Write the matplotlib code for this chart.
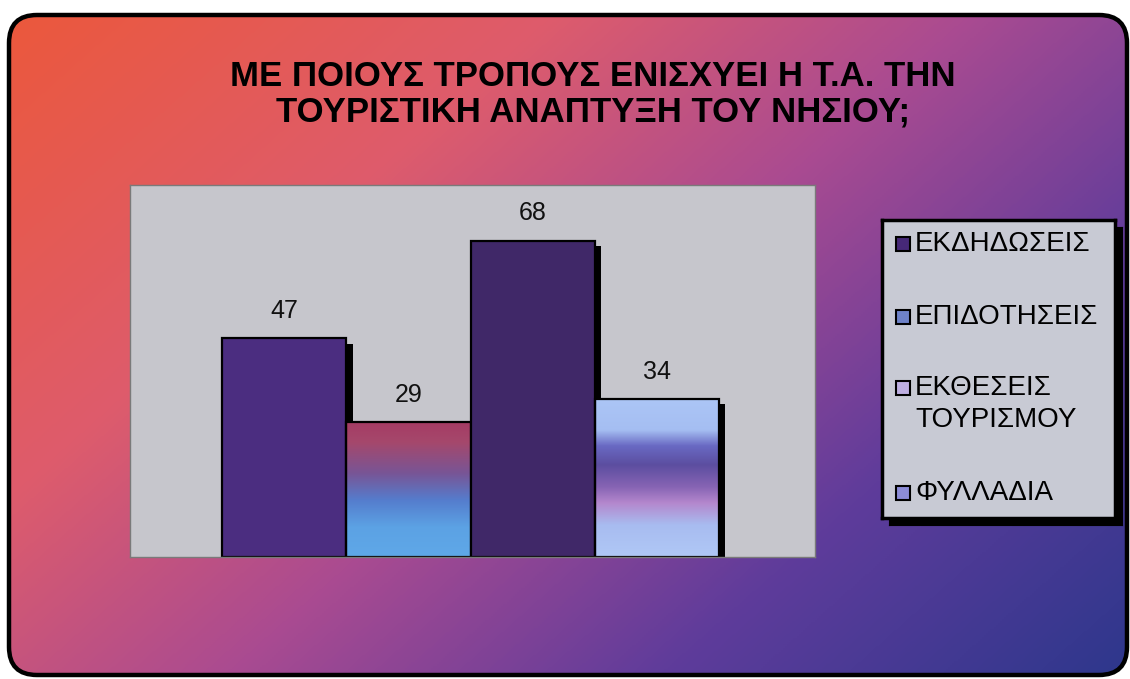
import numpy as np
import matplotlib
matplotlib.use("Agg")
import matplotlib.pyplot as plt
from matplotlib.patches import FancyBboxPatch, Rectangle
from matplotlib import font_manager as fm
from matplotlib.colors import LinearSegmentedColormap

# ---- data ----
categories = ["ΕΚΔΗΔΩΣΕΙΣ", "ΕΠΙΔΟΤΗΣΕΙΣ", "ΕΚΘΕΣΕΙΣ\nΤΟΥΡΙΣΜΟΥ", "ΦΥΛΛΑΔΙΑ"]
values = [47, 29, 68, 34]
title_lines = ["ΜΕ ΠΟΙΟΥΣ ΤΡΟΠΟΥΣ ΕΝΙΣΧΥΕΙ Η Τ.Α. ΤΗΝ", "ΤΟΥΡΙΣΤΙΚΗ ΑΝΑΠΤΥΞΗ ΤΟΥ ΝΗΣΙΟΥ;"]

names = {f.name for f in fm.fontManager.ttflist}
narrow = "Liberation Sans Narrow" if "Liberation Sans Narrow" in names else "Liberation Sans"
base = "Liberation Sans"

W, H = 1130, 679
fig = plt.figure(figsize=(W / 100, H / 100), dpi=100)
fig.patch.set_facecolor("white")

# ---- background gradient panel ----
bg = fig.add_axes([0, 0, 1, 1])
bg.set_xlim(0, W)
bg.set_ylim(H, 0)
bg.axis("off")
yy, xx = np.mgrid[0:H:2, 0:W:2]
t = (0.62 * xx / W + 0.42 * yy / H)
t = (t - t.min()) / (t.max() - t.min())
cmap_bg = LinearSegmentedColormap.from_list("bg", [
    (0.0, (236 / 255, 88 / 255, 58 / 255)),
    (0.30, (222 / 255, 92 / 255, 108 / 255)),
    (0.52, (170 / 255, 75 / 255, 145 / 255)),
    (0.75, (95 / 255, 60 / 255, 155 / 255)),
    (1.0, (45 / 255, 55 / 255, 140 / 255)),
])
im = bg.imshow(t, cmap=cmap_bg, extent=(0, W, H, 0), aspect="auto", interpolation="bilinear")
panel = FancyBboxPatch((9, 15), 1130 - 9 - 3, 677 - 15 - 2,
                       boxstyle="round,pad=0,rounding_size=28",
                       facecolor="none", edgecolor="black", linewidth=3.2)
bg.add_patch(panel)
im.set_clip_path(panel)

for i, line in enumerate(title_lines):
    bg.text(593, 76 + i * 36, line, ha="center", va="center", fontsize=25,
            fontweight="bold", family=narrow, color="black")

# ---- plot area ----
ax = fig.add_axes([130 / W, 1 - 557 / H, (815 - 130) / W, (557 - 185) / H])
ax.set_facecolor((198 / 255, 198 / 255, 204 / 255))
for s in ax.spines.values():
    s.set_color("#7a7a7a")
    s.set_linewidth(1.0)
ax.set_xticks([])
ax.set_yticks([])

x = np.arange(len(values))
width = 1.0
solid = {0: (75 / 255, 45 / 255, 128 / 255), 2: (64 / 255, 40 / 255, 104 / 255)}

def stops_to_img(stops, n=200):
    pos = np.array([s[0] for s in stops])
    cols = np.array([s[1] for s in stops]) / 255.0
    f = np.linspace(0, 1, n)
    img = np.stack([np.interp(f, pos, cols[:, c]) for c in range(3)], axis=1)
    return img[:, None, :]

grad = {
    1: [(0.0, (165, 60, 100)), (0.15, (165, 72, 108)), (0.38, (120, 85, 150)),
        (0.58, (85, 125, 205)), (0.78, (92, 162, 228)), (1.0, (95, 168, 232))],
    3: [(0.0, (172, 198, 246)), (0.2, (165, 190, 242)), (0.3, (105, 105, 195)),
        (0.42, (92, 78, 160)), (0.56, (135, 100, 180)), (0.66, (180, 135, 205)),
        (0.8, (168, 188, 240)), (1.0, (176, 200, 246))],
}

# shadows
for xi, v in zip(x, values):
    ax.add_patch(Rectangle((xi - width / 2 + 0.05, 0), width, v - 1.1,
                           facecolor="black", edgecolor="none", zorder=1))
bars = ax.bar(x, values, width=width, edgecolor="black", linewidth=1.6, zorder=2)
for i, (b, v) in enumerate(zip(bars, values)):
    if i in solid:
        b.set_facecolor(solid[i])
    else:
        b.set_facecolor("none")
        ax.imshow(stops_to_img(grad[i]), extent=(b.get_x(), b.get_x() + width, 0, v),
                  aspect="auto", zorder=1.5, interpolation="bilinear")
    ax.text(b.get_x() + width / 2, v + 3.3, f"{v}", ha="center", va="bottom",
            fontsize=18, family=base, color="#111111")
ax.set_xlim(-1.24, 4.27)
ax.set_ylim(0, 80)

# ---- legend ----
lx0, ly0, lx1, ly1 = 882, 220, 1115, 518
sh = fig.add_axes([(lx0 + 7) / W, 1 - (ly1 + 7) / H, (lx1 - lx0) / W, (ly1 - ly0) / H])
sh.set_facecolor("black")
sh.set_xticks([]); sh.set_yticks([])
lg = fig.add_axes([lx0 / W, 1 - ly1 / H, (lx1 - lx0) / W, (ly1 - ly0) / H])
lg.set_facecolor((200 / 255, 202 / 255, 212 / 255))
lg.set_xlim(lx0, lx1)
lg.set_ylim(ly1, ly0)
lg.set_xticks([]); lg.set_yticks([])
for s in lg.spines.values():
    s.set_linewidth(2.5)
    s.set_color("black")
sw_colors = [(70 / 255, 40 / 255, 120 / 255), (110 / 255, 130 / 255, 200 / 255),
             (190 / 255, 175 / 255, 225 / 255), (140 / 255, 140 / 255, 215 / 255)]
ys = [244, 317, 388, 493]
for lab, yv, c in zip(categories, ys, sw_colors):
    lg.add_patch(Rectangle((896, yv - 7), 14, 14, facecolor=c, edgecolor="black", linewidth=1.5))
    lg.text(915, yv - 13, lab, ha="left", va="top", fontsize=20, family=base,
            color="black", linespacing=1.3)

fig.savefig("out.png", dpi=100)
